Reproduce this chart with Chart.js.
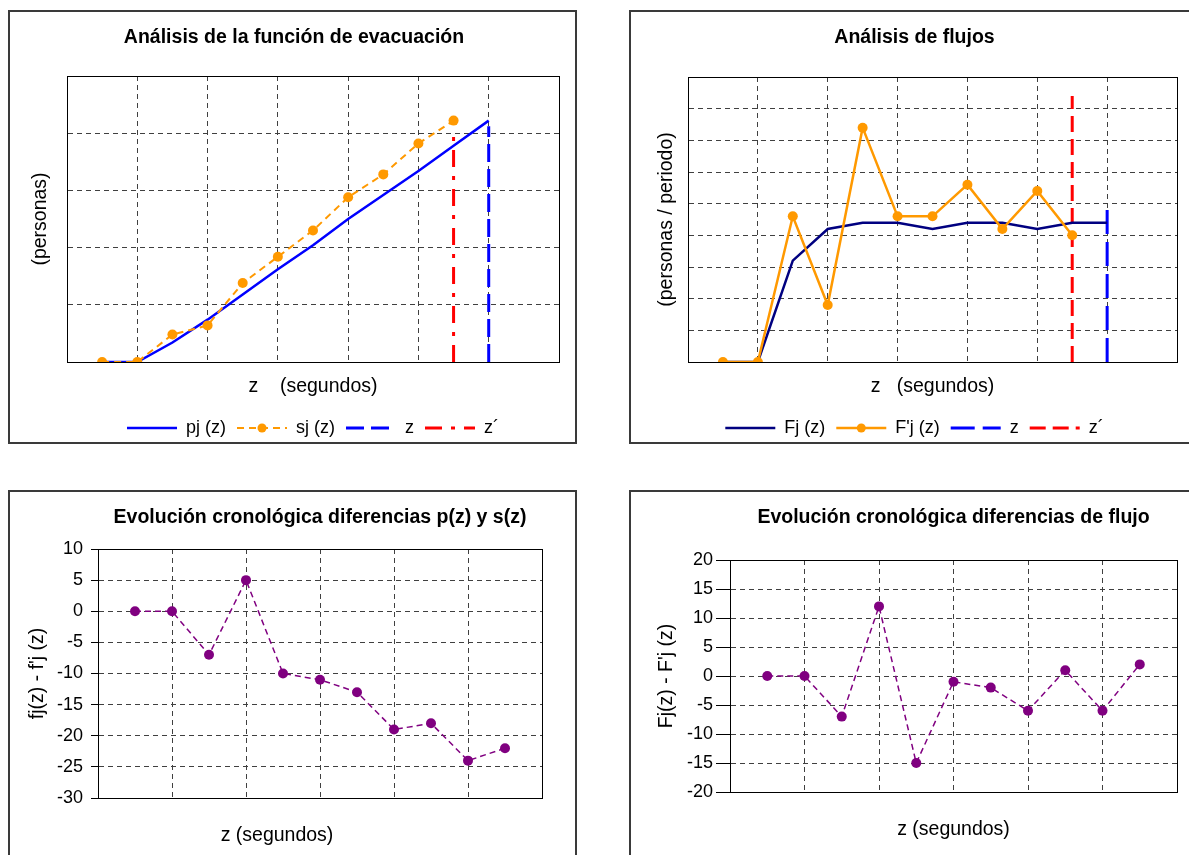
<!DOCTYPE html>
<html>
<head>
<meta charset="utf-8">
<script src="https://cdn.jsdelivr.net/npm/chart.js@4.4.1/dist/chart.umd.min.js"></script>
<style>
html,body{margin:0;padding:0;background:#fff;width:1189px;height:855px;overflow:hidden;position:relative}
canvas{position:absolute}
.box{position:absolute;border:2px solid #3a3a3a;box-sizing:border-box;pointer-events:none;z-index:2;background:transparent}
</style>
</head>
<body>
<canvas id="c1" width="565" height="435" style="left:10px;top:12px"></canvas>
<canvas id="c2" width="551" height="435" style="left:631px;top:12px"></canvas>
<canvas id="c3" width="565" height="363" style="left:10px;top:492px"></canvas>
<canvas id="c4" width="551" height="363" style="left:631px;top:492px"></canvas>
<div class="box" style="left:8px;top:10px;width:569px;height:434px"></div>
<div class="box" style="left:629px;top:10px;width:620px;height:434px"></div>
<div class="box" style="left:8px;top:490px;width:569px;height:420px"></div>
<div class="box" style="left:629px;top:490px;width:620px;height:420px"></div>
<script>
// ---- data ----
const zSteps = [1, 2, 3, 4, 5, 6, 7, 8, 9, 10, 11, 12];
const pj  = [0, 0, 17, 37, 59, 81, 102, 125, 146, 167, 189, 211];
const sj  = [0, 0, 24, 32, 69, 92, 115, 144, 164, 191, 211];
const Fj  = [0, 0, 16, 21, 22, 22, 21, 22, 22, 21, 22, 22];
const Fpj = [0, 0, 23, 9, 37, 23, 23, 28, 21, 27, 20];
const diffP = [0, 0, -7, 5, -10, -11, -13, -19, -18, -24, -22];
const diffF = [0, 0, -7, 12, -15, -1, -2, -6, 1, -6, 2];
const markerZ = [12, 11];          // z, z´
const markerTopEvac = [206, 200];  // height of z, z´ lines (personas)
const markerTopFlow = [24, 42];    // height of z, z´ lines (personas / periodo)
const legendEvac = ['pj (z)', 'sj (z)', 'z', 'z´'];
const legendFlow = ['Fj (z)', "F'j (z)", 'z', 'z´'];

const FONT = "'Liberation Sans', Arial, Helvetica, sans-serif";
Chart.defaults.font.family = FONT;
Chart.defaults.color = '#000';

const pts = (xs, ys) => ys.map((v, i) => ({x: xs[i], y: v}));
const vline = (x, top) => [{x: x, y: 0}, {x: x, y: top}];

const frame = {
  id: 'frame',
  beforeDatasetsDraw(chart) {
    const a = chart.chartArea, ctx = chart.ctx;
    ctx.save();
    ctx.strokeStyle = '#000'; ctx.lineWidth = 1; ctx.setLineDash([]);
    ctx.strokeRect(Math.round(a.left) + 0.5, Math.round(a.top) + 0.5,
                   Math.round(a.right - a.left), Math.round(a.bottom - a.top));
    ctx.restore();
  }
};

const legendSamples = {
  id: 'legendSamples',
  afterDraw(chart) {
    const lg = chart.legend;
    if (!lg || !lg.options.display || !lg.legendHitBoxes) return;
    const ctx = chart.ctx, bw = lg.options.labels.boxWidth;
    lg.legendItems.forEach((item, i) => {
      const hb = lg.legendHitBoxes[i];
      const ds = chart.data.datasets[item.datasetIndex];
      const y = hb.top + hb.height / 2;
      ctx.save();
      ctx.strokeStyle = ds.borderColor;
      ctx.lineWidth = ds.borderWidth;
      ctx.setLineDash(ds.borderDash || []);
      ctx.beginPath(); ctx.moveTo(hb.left, y); ctx.lineTo(hb.left + bw, y); ctx.stroke();
      if (ds.pointRadius > 0) {
        ctx.setLineDash([]);
        ctx.fillStyle = ds.pointBackgroundColor;
        ctx.beginPath(); ctx.arc(hb.left + bw / 2, y, 4.5, 0, Math.PI * 2); ctx.fill();
      }
      ctx.restore();
    });
  }
};

function legendOpts(fullSize) {
  return {
    display: true, position: 'bottom', fullSize: fullSize,
    labels: {
      boxWidth: 50, padding: 11, color: '#000', font: {size: 18},
      generateLabels(chart) {
        const items = Chart.defaults.plugins.legend.labels.generateLabels(chart);
        items.sort((a, b) => a.datasetIndex - b.datasetIndex);
        items.forEach(it => { it.fillStyle = 'rgba(0,0,0,0)'; it.strokeStyle = 'rgba(0,0,0,0)'; it.lineWidth = 0; });
        return items;
      }
    }
  };
}
const gridOpts = (tickLen) => ({color: '#404040', lineWidth: 1, drawTicks: tickLen > 0, tickLength: tickLen,
  tickBorderDash: [1, 0], tickColor: '#000'});
const borderOpts = {display: true, color: '#000', width: 1, dash: [5, 4]};
const titleFont = {size: 19.5, weight: 'bold'};
const axisFont = {size: 19.5};

// ---- Chart 1: Análisis de la función de evacuación ----
new Chart(document.getElementById('c1'), {
  type: 'line',
  data: {datasets: [
    {label: legendEvac[0], data: pts(zSteps, pj), borderColor: '#0000FF', borderWidth: 2.5, pointRadius: 0, tension: 0, order: 3},
    {label: legendEvac[1], data: pts(zSteps, sj), borderColor: '#FF9900', borderWidth: 2, borderDash: [7, 5], pointRadius: 5,
     pointBackgroundColor: '#FF9900', pointBorderColor: '#FF9900', pointBorderWidth: 0, tension: 0, order: 1},
    {label: legendEvac[2], data: vline(markerZ[0], markerTopEvac[0]), borderColor: '#0000FF', borderWidth: 3, borderDash: [18, 7], pointRadius: 0, order: 4},
    {label: legendEvac[3], data: vline(markerZ[1], markerTopEvac[1]), borderColor: '#FF0000', borderWidth: 3, borderDash: [17, 9, 4, 9], pointRadius: 0, order: 2}
  ]},
  options: {
    responsive: false, animation: false, events: [],
    layout: {padding: {left: 19, right: 16, top: 0, bottom: 0}},
    plugins: {
      title: {display: true, text: 'Análisis de la función de evacuación', font: titleFont, color: '#000', padding: {top: 14.3, bottom: 26.3}},
      legend: legendOpts(false),
      tooltip: {enabled: false}
    },
    scales: {
      x: {type: 'linear', min: 0, max: 14, ticks: {display: false, stepSize: 2}, grid: gridOpts(0), border: borderOpts,
          title: {display: true, text: 'z    (segundos)', font: axisFont, color: '#000', padding: {top: 0, bottom: 9.3}},
          afterFit(s) { s.height = 46; }},
      y: {type: 'linear', min: 0, max: 250, ticks: {display: false, stepSize: 50}, grid: gridOpts(0), border: borderOpts,
          title: {display: true, text: '(personas)', font: axisFont, color: '#000', padding: {top: 0, bottom: 0}},
          afterFit(s) { s.width = 38; }}
    }
  },
  plugins: [frame, legendSamples]
});

// ---- Chart 2: Análisis de flujos ----
new Chart(document.getElementById('c2'), {
  type: 'line',
  data: {datasets: [
    {label: legendFlow[0], data: pts(zSteps, Fj), borderColor: '#000080', borderWidth: 2.5, pointRadius: 0, tension: 0, order: 2},
    {label: legendFlow[1], data: pts(zSteps, Fpj), borderColor: '#FF9900', borderWidth: 2.5, pointRadius: 5,
     pointBackgroundColor: '#FF9900', pointBorderColor: '#FF9900', pointBorderWidth: 0, tension: 0, order: 1},
    {label: legendFlow[2], data: vline(markerZ[0], markerTopFlow[0]), borderColor: '#0000FF', borderWidth: 3, borderDash: [24, 8], pointRadius: 0, order: 4},
    {label: legendFlow[3], data: vline(markerZ[1], markerTopFlow[1]), borderColor: '#FF0000', borderWidth: 3, borderDash: [16, 7], pointRadius: 0, order: 3}
  ]},
  options: {
    responsive: false, animation: false, events: [],
    layout: {padding: {left: 16, right: 0, top: 0, bottom: 0}},
    plugins: {
      title: {display: true, text: 'Análisis de flujos', font: titleFont, color: '#000', padding: {top: 14.3, bottom: 27.3}},
      legend: legendOpts(true),
      tooltip: {enabled: false}
    },
    scales: {
      x: {type: 'linear', min: 0, max: 14, ticks: {display: false, stepSize: 2}, grid: gridOpts(0), border: borderOpts,
          title: {display: true, text: 'z   (segundos)', font: axisFont, color: '#000', padding: {top: 0, bottom: 9.3}},
          afterFit(s) { s.height = 46; }},
      y: {type: 'linear', min: 0, max: 45, ticks: {display: false, stepSize: 5}, grid: gridOpts(0), border: borderOpts,
          title: {display: true, text: '(personas / periodo)', font: axisFont, color: '#000', padding: {top: 8.3, bottom: 0}},
          afterFit(s) { s.width = 41; }}
    }
  },
  plugins: [frame, legendSamples]
});

// ---- Chart 3: Evolución cronológica diferencias p(z) y s(z) ----
new Chart(document.getElementById('c3'), {
  type: 'line',
  data: {datasets: [
    {label: 'fj(z) - f\'j (z)', data: pts(zSteps, diffP), borderColor: '#800080', borderWidth: 1.5, borderDash: [6, 4], pointRadius: 5,
     pointBackgroundColor: '#800080', pointBorderColor: '#800080', pointBorderWidth: 0, tension: 0}
  ]},
  options: {
    responsive: false, animation: false, events: [],
    layout: {padding: {left: 2, right: 33, top: 0, bottom: 0}},
    plugins: {
      title: {display: true, fullSize: false, text: 'Evolución cronológica diferencias p(z) y s(z)', font: titleFont, color: '#000', padding: {top: 14.3, bottom: 19.3}},
      subtitle: {display: true, position: 'bottom', fullSize: true, weight: 500, text: 'z (segundos)', font: axisFont, color: '#000', padding: {top: 0, bottom: 7.6}},
      legend: {display: false},
      tooltip: {enabled: false}
    },
    scales: {
      x: {type: 'linear', min: 0, max: 12, ticks: {display: false, stepSize: 2}, grid: gridOpts(0), border: borderOpts,
          afterFit(s) { s.height = 26; }},
      y: {type: 'linear', min: -30, max: 10, ticks: {stepSize: 5, padding: 8, font: {size: 18}, color: '#000'}, grid: gridOpts(7), border: borderOpts,
          title: {display: true, text: 'fj(z) - f\'j (z)', font: axisFont, color: '#000', padding: {top: 14.3, bottom: 0}},
          afterFit(s) { s.width = 86; }}
    }
  },
  plugins: [frame]
});

// ---- Chart 4: Evolución cronológica diferencias de flujo ----
new Chart(document.getElementById('c4'), {
  type: 'line',
  data: {datasets: [
    {label: 'Fj(z) - F\'j (z)', data: pts(zSteps, diffF), borderColor: '#800080', borderWidth: 1.5, borderDash: [6, 4], pointRadius: 5,
     pointBackgroundColor: '#800080', pointBorderColor: '#800080', pointBorderWidth: 0, tension: 0}
  ]},
  options: {
    responsive: false, animation: false, events: [],
    layout: {padding: {left: 0, right: 3, top: 0, bottom: 0}},
    plugins: {
      title: {display: true, fullSize: false, text: 'Evolución cronológica diferencias de flujo', font: titleFont, color: '#000', padding: {top: 14.3, bottom: 30.3}},
      legend: {display: false},
      tooltip: {enabled: false}
    },
    scales: {
      x: {type: 'linear', min: 0, max: 12, ticks: {display: false, stepSize: 2}, grid: gridOpts(0), border: borderOpts,
          title: {display: true, text: 'z (segundos)', font: axisFont, color: '#000', padding: {top: 0, bottom: 13.3}},
          afterFit(s) { s.height = 63; }},
      y: {type: 'linear', min: -20, max: 20, ticks: {stepSize: 5, padding: 3, font: {size: 18}, color: '#000'}, grid: gridOpts(14), border: borderOpts,
          title: {display: true, text: 'Fj(z) - F\'j (z)', font: axisFont, color: '#000', padding: {top: 24.3, bottom: 0}},
          afterFit(s) { s.width = 99; }}
    }
  },
  plugins: [frame]
});
</script>
</body>
</html>
